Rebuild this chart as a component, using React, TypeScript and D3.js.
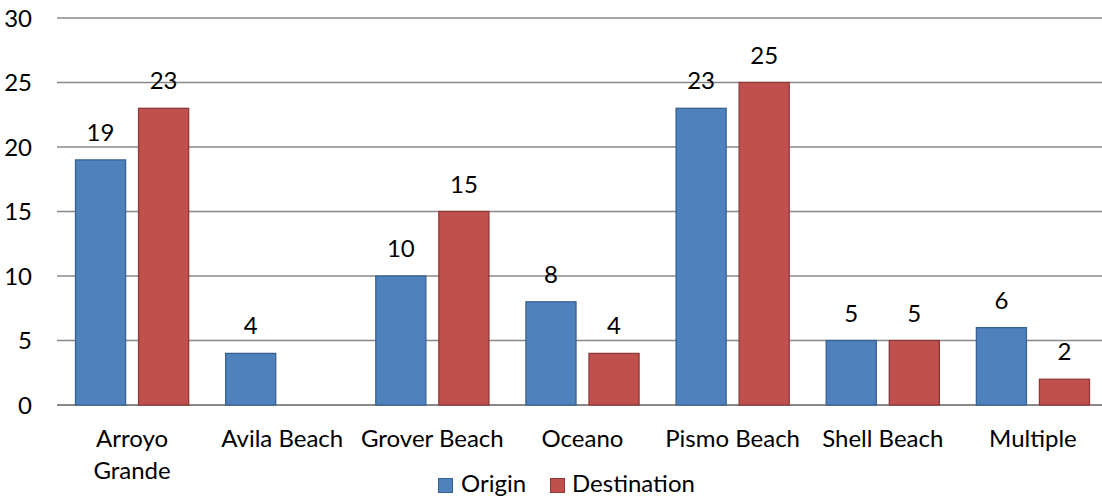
import React from "react";
import * as d3 from "d3";

const categories = ["Arroyo Grande", "Avila Beach", "Grover Beach", "Oceano", "Pismo Beach", "Shell Beach", "Multiple"];
const categoryLines = [["Arroyo", "Grande"], ["Avila Beach"], ["Grover Beach"], ["Oceano"], ["Pismo Beach"], ["Shell Beach"], ["Multiple"]];
const seriesNames = ["Origin", "Destination"];
const originValues: (number | null)[] = [19, 4, 10, 8, 23, 5, 6];
const destinationValues: (number | null)[] = [23, null, 15, 4, 25, 5, 2];
const yTicks = [0, 5, 10, 15, 20, 25, 30];

const fills = ["#4F81BD", "#C0504D"];
const strokes = ["#3A6290", "#8E3A38"];
const FONT = "Lato, 'Open Sans', sans-serif";

export default function App() {
  const W = 1102, H = 499;
  const x = d3.scaleBand<string>().domain(categories).range([57, 1108]).padding(0);
  const bw = x.bandwidth();
  const x1 = d3.scaleBand<string>().domain(seriesNames).range([18, bw - 18]).paddingInner(0.19);
  const y = d3.scaleLinear().domain([0, 30]).range([405, 18]);
  const seriesValues = [originValues, destinationValues];

  return (
    <svg width={W} height={H} style={{ position: "absolute", left: 0, top: 0 }} fontFamily={FONT}>
      <rect width={W} height={H} fill="#fff" />
      {yTicks.map((t) => (
        <g key={t}>
          <line x1={57} x2={W} y1={y(t)} y2={y(t)} stroke="#888" strokeWidth={t === 0 ? 2 : 1.5} />
          <text x={32} y={y(t)} dy="0.36em" textAnchor="end" fontSize={24} fill="#000">{t}</text>
        </g>
      ))}
      {categories.map((c, i) => (
        <g key={c} transform={`translate(${x(c)},0)`}>
          {seriesNames.map((s, si) => {
            const v = seriesValues[si][i];
            if (v == null) return null;
            const bx = x1(s)!;
            return (
              <g key={s}>
                <rect x={bx + 0.5} y={y(v)} width={x1.bandwidth() - 1} height={y(0) - y(v)} fill={fills[si]} stroke={strokes[si]} strokeWidth={1.3} />
                <text x={bx + x1.bandwidth() / 2} y={y(v) - 19} textAnchor="middle" fontSize={24} fill="#000">{v}</text>
              </g>
            );
          })}
          {categoryLines[i].map((ln, li) => (
            <text key={li} x={bw / 2} y={447 + li * 32} textAnchor="middle" fontSize={24} fill="#000">{ln}</text>
          ))}
        </g>
      ))}
      {/* legend */}
      <rect x={438.5} y={478.5} width={14} height={14} fill={fills[0]} stroke={strokes[0]} strokeWidth={1} />
      <text x={461} y={492} fontSize={24} fill="#000">{seriesNames[0]}</text>
      <rect x={550.5} y={478.5} width={14} height={14} fill={fills[1]} stroke={strokes[1]} strokeWidth={1} />
      <text x={572} y={492} fontSize={24} fill="#000">{seriesNames[1]}</text>
    </svg>
  );
}
